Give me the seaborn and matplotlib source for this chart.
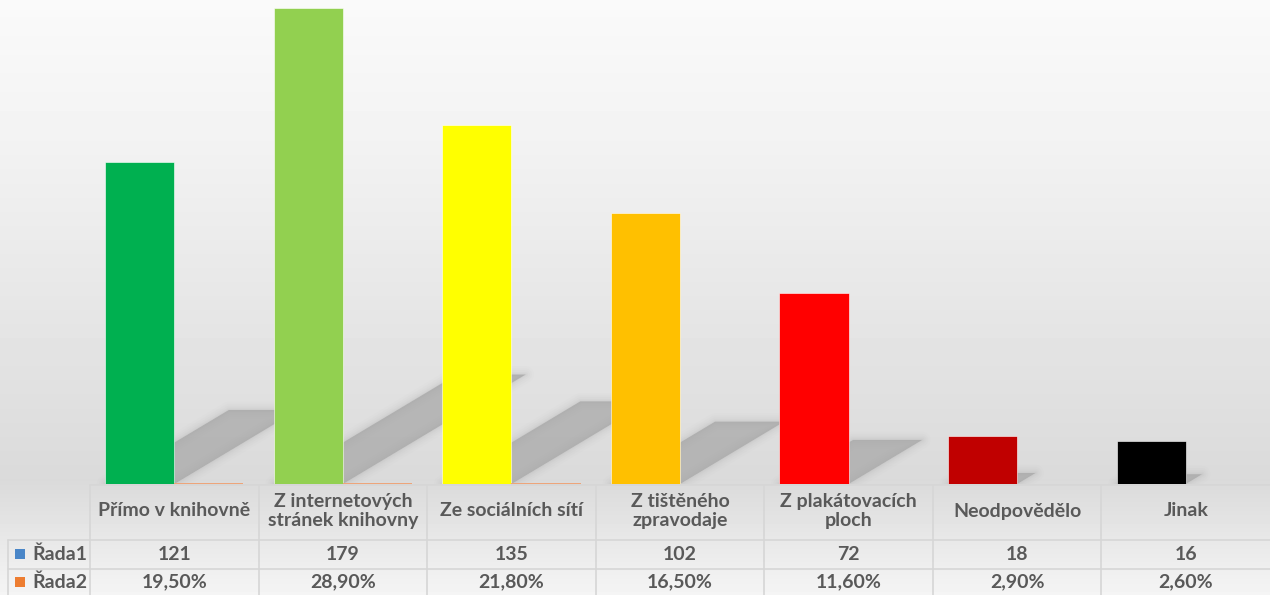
"""Bar chart with data table: how respondents learned about the library."""
import matplotlib.pyplot as plt
import numpy as np
import pandas as pd
import seaborn as sns

from matplotlib.patches import Polygon
from matplotlib.transforms import blended_transform_factory


kategorie = [
    "Přímo v knihovně",
    "Z internetových\nstránek knihovny",
    "Ze sociálních sítí",
    "Z tištěného\nzpravodaje",
    "Z plakátovacích\nploch",
    "Neodpovědělo",
    "Jinak",
]
rada1 = [121, 179, 135, 102, 72, 18, 16]
rada2 = [0.195, 0.289, 0.218, 0.165, 0.116, 0.029, 0.026]
nazvy_rad = ["Řada1", "Řada2"]

barvy_sloupcu = ["#00b050", "#92d050", "#ffff00", "#ffc000", "#ff0000", "#c00000", "#000000"]
barvy_rad = ["#4a86c8", "#ed7d31"]
text_color = "#595959"
grid_color = "#d6d6d6"

sns.set_theme(style="white")
plt.rcParams["font.family"] = ["Lato", "DejaVu Sans"]

W, H = 1270, 595
fig = plt.figure(figsize=(W / 100, H / 100), dpi=100)


def fx(px):
    return px / W


def fy(py):
    return 1 - py / H


# background gradient (light at top, darkest just above the table)
bg = fig.add_axes([0, 0, 1, 1], zorder=-10)
rows = np.arange(H)
shade = np.interp(rows, [0, 120, 480, 540, 595], [0.98, 0.955, 0.855, 0.91, 0.96])
bg.imshow(np.repeat(shade[:, None], 4, axis=1), cmap="gray", vmin=0, vmax=1,
          aspect="auto", extent=[0, 1, 0, 1], origin="upper")
bg.set_axis_off()

# main plot area
ax = fig.add_axes([fx(90), fy(484), fx(1180), 484 / H])
ax.patch.set_alpha(0)

df = pd.DataFrame({
    "kategorie": kategorie * 2,
    "rada": [nazvy_rad[0]] * len(rada1) + [nazvy_rad[1]] * len(rada2),
    "hodnota": rada1 + rada2,
})
sns.barplot(data=df, x="kategorie", y="hodnota", hue="rada", dodge=True,
            width=0.82, gap=0, legend=False, ax=ax, zorder=3)

for bar, c in zip(ax.containers[0], barvy_sloupcu):
    bar.set_facecolor(c)
    bar.set_edgecolor("#ffffff")
    bar.set_linewidth(0.4)
for bar in ax.containers[1]:
    bar.set_facecolor("#eda57a")
    bar.set_edgecolor("none")

# soft perspective shadows behind the main series
for bar in ax.containers[0]:
    x0, w, h = bar.get_x(), bar.get_width(), bar.get_height()
    dx, sh = 0.00606 * h, 0.23 * h
    pts = [(x0, 0), (x0 + w, 0), (x0 + w + dx, sh), (x0 + dx, sh)]
    ax.add_patch(Polygon(pts, closed=True, facecolor="#acacac", edgecolor="none",
                         alpha=0.8, zorder=1))
    for lw, a in [(12, 0.03), (9, 0.04), (6, 0.05), (3.5, 0.07), (1.5, 0.08)]:
        ax.add_patch(Polygon(pts, closed=True, facecolor="none", edgecolor="#a4a4a4",
                             lw=lw, alpha=a, joinstyle="round", zorder=2))

ax.set_xlim(-0.5, len(kategorie) - 0.5)
ax.set_ylim(0, 182)
ax.set_xticks([])
ax.set_yticks([])
ax.set_xlabel("")
ax.set_ylabel("")
sns.despine(ax=ax, left=True, bottom=True)

# data table below the bars
tr = blended_transform_factory(ax.transData, fig.transFigure)
font = dict(color=text_color, fontweight="bold", fontsize=14)

for i, kat in enumerate(kategorie):
    fig.text(i, fy(511), kat, transform=tr, ha="center", va="center",
             multialignment="center", linespacing=1.1, **font)
    fig.text(i, fy(554), str(rada1[i]), transform=tr, ha="center", va="center", **font)
    pct = f"{rada2[i] * 100:.2f}%".replace(".", ",")
    fig.text(i, fy(582), pct, transform=tr, ha="center", va="center", **font)

for nazev, barva, ypx in zip(nazvy_rad, barvy_rad, [554, 582]):
    fig.patches.append(plt.Rectangle((fx(15), fy(ypx + 5)), fx(10), 10 / H,
                                     transform=fig.transFigure, facecolor=barva,
                                     edgecolor="none"))
    fig.text(fx(32), fy(ypx), nazev, ha="left", va="center", **font)

line_kw = dict(color=grid_color, lw=1.2, zorder=5)
fig.add_artist(plt.Line2D([fx(90), 1], [fy(484.5), fy(484.5)], transform=fig.transFigure, **line_kw))
for ypx in [539.5, 568.5]:
    fig.add_artist(plt.Line2D([fx(8), 1], [fy(ypx), fy(ypx)], transform=fig.transFigure, **line_kw))
fig.add_artist(plt.Line2D([fx(8), fx(8)], [fy(539.5), 0], transform=fig.transFigure, **line_kw))
for i in range(len(kategorie)):
    fig.add_artist(plt.Line2D([i - 0.5, i - 0.5], [fy(484.5), 0], transform=tr, **line_kw))

fig.savefig("out.png", dpi=100)
